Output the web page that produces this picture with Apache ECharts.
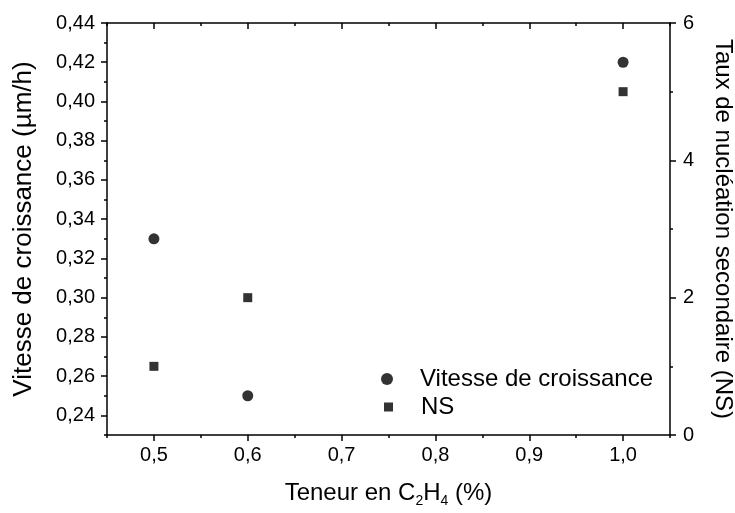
<!DOCTYPE html>
<html>
<head>
<meta charset="utf-8">
<script src="https://cdn.jsdelivr.net/npm/echarts@6/dist/echarts.min.js"></script>
<style>
  html, body { margin: 0; padding: 0; background: #fff; }
  #chart { width: 735px; height: 513px; }
</style>
</head>
<body>
<div id="chart"></div>
<script>
// C2H4 content (%) of each run
const teneur = [0.5, 0.6, 1.0];
// growth rate (µm/h), left axis
const vitesse = [0.33, 0.25, 0.42];
// secondary nucleation rate, right axis
const tauxNS = [1.0, 2.0, 5.0];

// tick positions
const xMajorTicks = [0.5, 0.6, 0.7, 0.8, 0.9, 1.0];
const xMinorTicks = [0.45, 0.55, 0.65, 0.75, 0.85, 0.95, 1.05];
const leftMajorTicks = [0.24, 0.26, 0.28, 0.30, 0.32, 0.34, 0.36, 0.38, 0.40, 0.42, 0.44];
const leftMinorTicks = [0.23, 0.25, 0.27, 0.29, 0.31, 0.33, 0.35, 0.37, 0.39, 0.41, 0.43];
const rightMajorTicks = [0, 2, 4, 6];

const FONT = 'Liberation Sans, Arial, sans-serif';
const comma = (v, d) => Number(v).toFixed(d).replace('.', ',');
const line = { show: true, onZero: false, lineStyle: { color: '#000', width: 1.5 } };

const chart = echarts.init(document.getElementById('chart'), null, { renderer: 'canvas' });

chart.setOption({
  animation: false,
  backgroundColor: '#fff',
  grid: { left: 107, right: 65, top: 23, bottom: 78, containLabel: false, outerBoundsMode: 'none' },
  legend: [
    {
      left: 376, top: 362, orient: 'vertical',
      itemWidth: 12, itemHeight: 12, selectedMode: false,
      data: [{ name: 'Vitesse de croissance', icon: 'circle' }],
      itemStyle: { color: '#000' },
      textStyle: { fontFamily: FONT, fontSize: 24, color: '#000', padding: [0, 0, 0, 22] }
    },
    {
      left: 379, top: 390, orient: 'vertical',
      itemWidth: 9, itemHeight: 9, selectedMode: false,
      data: [{ name: 'NS', icon: 'rect' }],
      itemStyle: { color: '#000' },
      textStyle: { fontFamily: FONT, fontSize: 24, color: '#000', padding: [0, 0, 0, 23] }
    }
  ],
  xAxis: [
    {
      type: 'value', position: 'bottom', min: 0.45, max: 1.05,
      name: '{a|Teneur en C}{s|2}{a|H}{s|4}{a| (%)}',
      nameLocation: 'middle', nameGap: 43,
      nameTextStyle: {
        rich: {
          a: { fontFamily: FONT, fontSize: 24, color: '#000', lineHeight: 30 },
          s: { fontFamily: FONT, fontSize: 14, color: '#000', lineHeight: 16, verticalAlign: 'bottom' }
        }
      },
      axisLine: line,
      axisTick: { show: true, inside: false, length: 6, customValues: xMajorTicks, lineStyle: { color: '#000', width: 1.5 } },
      axisLabel: { show: true, customValues: xMajorTicks, margin: 10, fontFamily: FONT, fontSize: 20, color: '#000', formatter: v => comma(v, 1) },
      splitLine: { show: false }
    },
    {
      type: 'value', position: 'top', min: 0.45, max: 1.05,
      axisLine: line,
      axisTick: { show: true, inside: true, length: 6, customValues: xMajorTicks, lineStyle: { color: '#000', width: 1.5 } },
      axisLabel: { show: false },
      splitLine: { show: false }
    },
    {
      type: 'value', position: 'bottom', min: 0.45, max: 1.05,
      axisLine: { show: false },
      axisTick: { show: true, inside: false, length: 3, customValues: xMinorTicks, lineStyle: { color: '#000', width: 1.5 } },
      axisLabel: { show: false },
      splitLine: { show: false }
    },
    {
      type: 'value', position: 'top', min: 0.45, max: 1.05,
      axisLine: { show: false },
      axisTick: { show: true, inside: true, length: 3, customValues: xMinorTicks, lineStyle: { color: '#000', width: 1.5 } },
      axisLabel: { show: false },
      splitLine: { show: false }
    }
  ],
  yAxis: [
    {
      type: 'value', position: 'left', min: 0.23, max: 0.44,
      name: 'Vitesse de croissance (µm/h)', nameLocation: 'middle', nameGap: 70,
      nameTextStyle: { fontFamily: FONT, fontSize: 26, color: '#000' },
      axisLine: line,
      axisTick: { show: true, inside: false, length: 6, customValues: leftMajorTicks, lineStyle: { color: '#000', width: 1.5 } },
      axisLabel: { show: true, customValues: leftMajorTicks, margin: 12, fontFamily: FONT, fontSize: 20, color: '#000', formatter: v => comma(v, 2) },
      splitLine: { show: false }
    },
    {
      type: 'value', position: 'right', min: 0, max: 6, interval: 2,
      name: 'Taux de nucléation secondaire (NS)', nameLocation: 'middle', nameGap: 41, nameRotate: -90,
      nameTextStyle: { fontFamily: FONT, fontSize: 24, color: '#000' },
      axisLine: line,
      axisTick: { show: true, inside: false, length: 6, customValues: rightMajorTicks, lineStyle: { color: '#000', width: 1.5 } },
      minorTick: { show: true, splitNumber: 2, length: 3, lineStyle: { color: '#000', width: 1.5 } },
      axisLabel: { show: true, customValues: rightMajorTicks, margin: 13, fontFamily: FONT, fontSize: 20, color: '#000', formatter: v => String(v) },
      splitLine: { show: false }, minorSplitLine: { show: false }
    },
    {
      type: 'value', position: 'left', min: 0.23, max: 0.44,
      axisLine: { show: false },
      axisTick: { show: true, inside: false, length: 3, customValues: leftMinorTicks, lineStyle: { color: '#000', width: 1.5 } },
      axisLabel: { show: false },
      splitLine: { show: false }
    }
  ],
  series: [
    {
      name: 'Vitesse de croissance', type: 'scatter', xAxisIndex: 0, yAxisIndex: 0,
      symbol: 'circle', symbolSize: 11,
      itemStyle: { color: '#000' },
      data: teneur.map((x, i) => [x, vitesse[i]])
    },
    {
      name: 'NS', type: 'scatter', xAxisIndex: 0, yAxisIndex: 1,
      symbol: 'rect', symbolSize: 9,
      itemStyle: { color: '#000' },
      data: teneur.map((x, i) => [x, tauxNS[i]])
    }
  ]
});
</script>
</body>
</html>
